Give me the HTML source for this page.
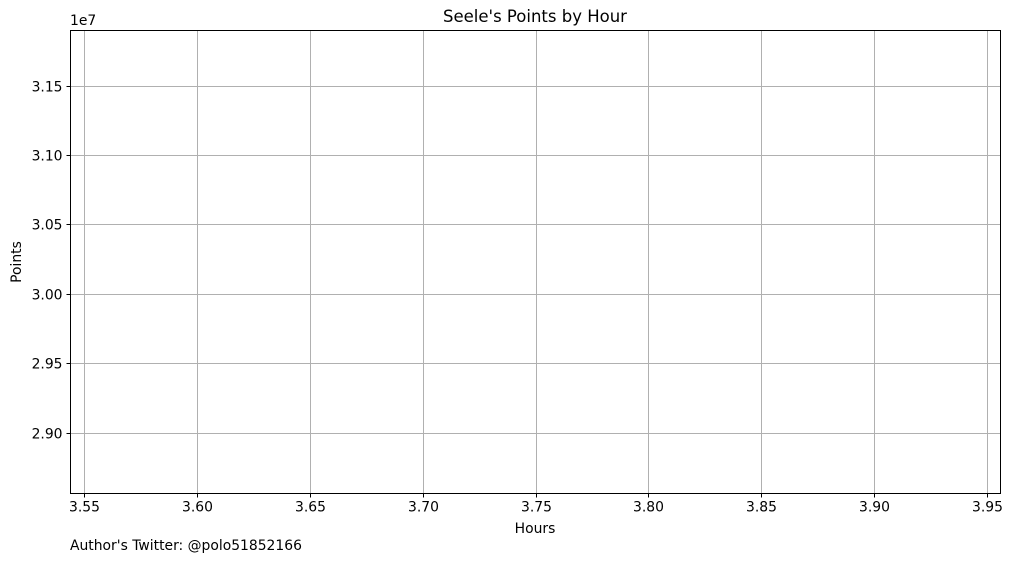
<!DOCTYPE html>
<html><head><meta charset="utf-8">
<style>
body{margin:0;background:#fff;}
svg{font-family:"DejaVu Sans","Liberation Sans",sans-serif;}
</style></head>
<body>
<svg id="chart" width="1011" height="562" viewBox="0 0 1011 562">
<rect width="1011" height="562" fill="#fff"/>
<g id="grid"></g>
<g id="series"></g>
<rect x="70.5" y="30.5" width="930" height="463" fill="none" stroke="#000" stroke-width="1"/>
<g id="xticks"></g>
<g id="yticks"></g>
<text x="535" y="22" text-anchor="middle" font-size="16.5">Seele's Points by Hour</text>
<text x="535" y="533" text-anchor="middle" font-size="13.9">Hours</text>
<text x="21" y="262" text-anchor="middle" font-size="13.9" transform="rotate(-90 21 262)">Points</text>
<text x="70" y="25" font-size="13.9">1e7</text>
<text x="70" y="550" font-size="13.9">Author's Twitter: @polo51852166</text>
</svg>
<script>
const hours = [3.75];
const points = [30236000];
const xTicks = [3.55,3.60,3.65,3.70,3.75,3.80,3.85,3.90,3.95];
const yTicks = [2.90,2.95,3.00,3.05,3.10,3.15];
const L=70.5,R=1000.5,T=30.5,B=493.5;
const xMin=3.544,xMax=3.956,yMin=2.8561,yMax=3.1897;
const sx=v=>L+(v-xMin)/(xMax-xMin)*(R-L);
const sy=v=>B-(v-yMin)/(yMax-yMin)*(B-T);
const NS='http://www.w3.org/2000/svg';
const g=document.getElementById('grid'),xt=document.getElementById('xticks'),yt=document.getElementById('yticks');
function mk(tag,attrs,parent){const e=document.createElementNS(NS,tag);for(const k in attrs)e.setAttribute(k,attrs[k]);parent.appendChild(e);return e;}
xTicks.forEach(v=>{const x=Math.round(sx(v))+0.5;
 const gl=mk('line',{x1:x,x2:x,y1:T,y2:B,stroke:'#b0b0b0','stroke-width':1},g);
 
 
 const tk=mk('line',{x1:x,x2:x,y1:B,y2:B+4,stroke:'#000'},xt);
 
 
 const t=mk('text',{x:x,y:B+18,'text-anchor':'middle','font-size':13.9},xt);t.textContent=v.toFixed(2);
 
 
});
yTicks.forEach(v=>{const y=Math.round(sy(v))+0.5;
 const gl=mk('line',{x1:L,x2:R,y1:y,y2:y,stroke:'#b0b0b0','stroke-width':1},g);
 
 
 const tk=mk('line',{x1:L-4,x2:L,y1:y,y2:y,stroke:'#000'},yt);
 
 
 const t=mk('text',{x:L-8,y:y+5,'text-anchor':'end','font-size':13.9},yt);t.textContent=v.toFixed(2);
 
 
});
const s=document.getElementById('series');
const d=hours.map((h,i)=>(i?'L':'M')+sx(h)+' '+sy(points[i]/1e7)).join(' ');
const p=mk('path',{d:d,fill:'none',stroke:'#1f77b4','stroke-width':1.5},s);


</script>
</body></html>
